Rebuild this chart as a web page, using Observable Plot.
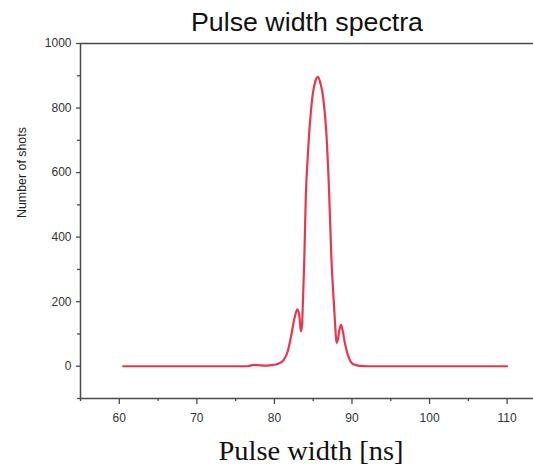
<!DOCTYPE html>
<html>
<head>
<meta charset="utf-8">
<script src="https://cdn.jsdelivr.net/npm/d3@7"></script>
<script src="https://cdn.jsdelivr.net/npm/@observablehq/plot@0.6"></script>
<style>
  html, body { margin: 0; padding: 0; background: #fff; }
  #chart svg { display: block; }
</style>
</head>
<body>
<div id="chart"></div>
<script>
// Pulse width [ns]
const pulseWidth = [60.5, 65, 70, 75, 76.5, 77.3, 78, 79, 79.8, 80.5, 81.2, 81.7, 82.2, 82.6, 82.95, 83.2, 83.4, 83.55, 83.7, 83.85, 84.05, 84.3, 84.6, 84.95, 85.3, 85.6, 85.9, 86.3, 86.7, 87.05, 87.35, 87.6, 87.85, 88.0, 88.2, 88.4, 88.6, 88.8, 89.1, 89.4, 89.8, 90.3, 91, 92, 95, 100, 105, 110];
// Number of shots
const shots = [0, 0, 0, 0, 0, 4, 3, 2, 4, 8, 20, 45, 100, 150, 176, 160, 108, 125, 220, 330, 530, 650, 760, 845, 885, 897, 880, 830, 720, 540, 330, 220, 120, 72, 85, 115, 128, 110, 70, 40, 15, 5, 1, 0, 0, 0, 0, 0];

const xMajorTicks = [60, 70, 80, 90, 100, 110];
const xMinorTicks = [55, 65, 75, 85, 95, 105];
const yMajorTicks = [0, 200, 400, 600, 800, 1000];
const yMinorTicks = [-100, 100, 300, 500, 700, 900];

const titleText = "Pulse width spectra";
const xLabel = "Pulse width [ns]";
const yLabel = "Number of shots";

const data = pulseWidth.map((x, i) => ({x, y: shots[i]}));

const axisColor = "#4a4a4a";
const sans = "Liberation Sans, Arial, Helvetica, sans-serif";

const chart = Plot.plot({
  width: 533,
  height: 471,
  marginLeft: 80,
  marginRight: 0,
  marginTop: 43,
  marginBottom: 73,
  style: {fontFamily: sans, background: "#fff"},
  x: {domain: [55, 113.4], axis: null},
  y: {domain: [-100, 1000], axis: null},
  marks: [
    Plot.ruleY([1000], {stroke: axisColor, strokeWidth: 1.5}),
    Plot.ruleY([-100], {stroke: axisColor, strokeWidth: 1.5}),
    Plot.ruleX([55], {stroke: axisColor, strokeWidth: 1.5}),
    Plot.axisY({ticks: yMajorTicks, tickFormat: d3.format("d"), tickSize: 4, tickPadding: 5, fontSize: 12, label: null, stroke: axisColor, strokeWidth: 1.3, fill: "#333"}),
    Plot.axisY({ticks: yMinorTicks, tickSize: 3, text: null, label: null, stroke: axisColor, strokeWidth: 1.3}),
    Plot.axisX({ticks: xMajorTicks, tickFormat: d3.format("d"), tickSize: 6, tickPadding: 9, fontSize: 12, label: null, stroke: axisColor, strokeWidth: 1.3, fill: "#333"}),
    Plot.axisX({ticks: xMinorTicks, tickSize: 3, text: null, label: null, stroke: axisColor, strokeWidth: 1.3}),
    Plot.line(data, {x: "x", y: "y", curve: "monotone-x", stroke: "#e8364f", strokeWidth: 2.2}),
    Plot.text([titleText], {frameAnchor: "top", lineAnchor: "bottom", dx: 0, dy: -13, fontSize: 26, fontFamily: sans, fill: "#111", className: "ttl", text: d => d}),
    Plot.text([xLabel], {frameAnchor: "bottom", lineAnchor: "bottom", dx: 4, dy: 61, fontSize: 27, fontFamily: "Liberation Serif, Times New Roman, serif", fill: "#111", className: "xlbl", text: d => d}),
    Plot.text([yLabel], {frameAnchor: "left", dx: -58, dy: -3, rotate: -90, fontSize: 12.4, fontFamily: sans, fill: "#222", text: d => d})
  ]
});

document.getElementById("chart").appendChild(chart);

// Stretch title and x label to match reference widths
d3.select(chart).selectAll(".ttl text").attr("textLength", 232).attr("lengthAdjust", "spacingAndGlyphs");
d3.select(chart).selectAll(".xlbl text").attr("textLength", 185).attr("lengthAdjust", "spacingAndGlyphs");
</script>
</body>
</html>
